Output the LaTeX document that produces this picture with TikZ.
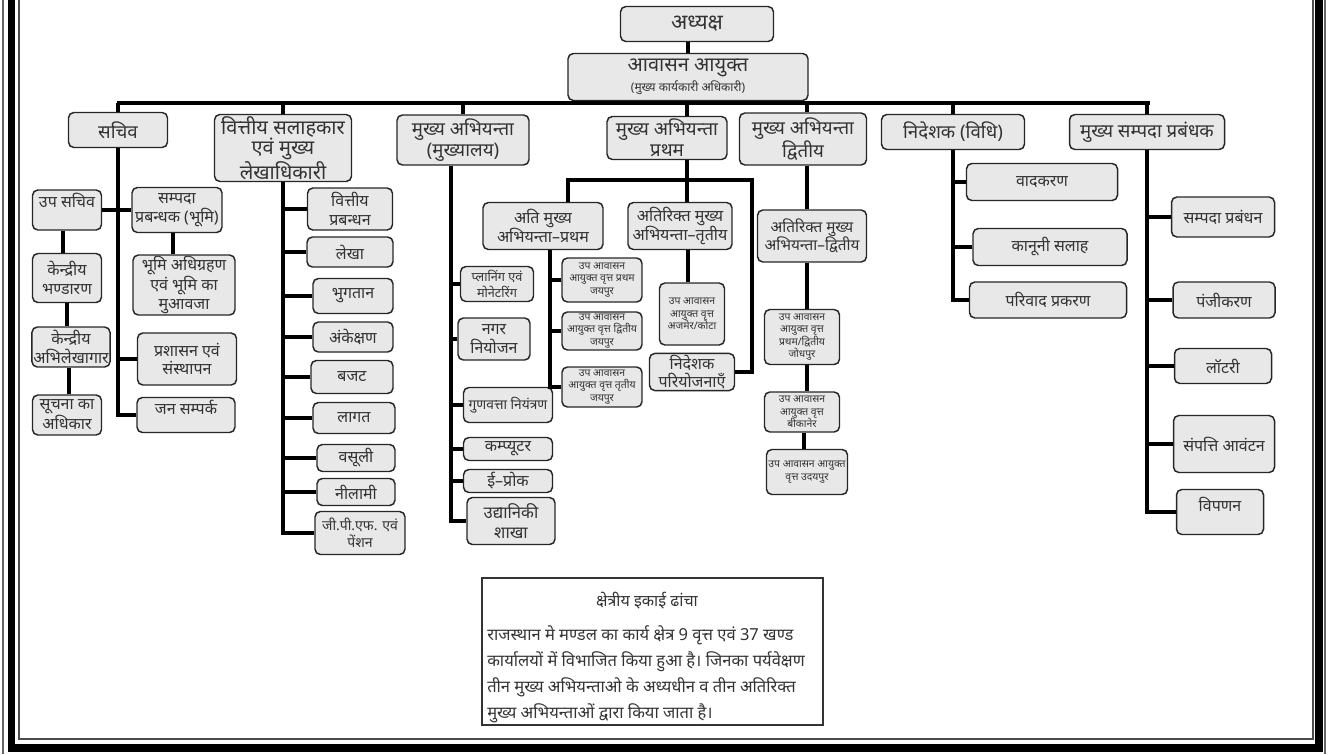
\documentclass[tikz,border=0pt]{standalone}
\usepackage{fontspec}
\setmainfont{Noto Sans}[Script=Devanagari]
\usetikzlibrary{calc}
\newcommand\txtsize[2]{\fontsize{#1}{#2}\selectfont}

\begin{document}
\begin{tikzpicture}[x=0.75pt,y=-0.75pt,
  office/.style={draw=black!85,fill=black!9,rounded corners=4pt,line width=1.1pt,
    align=center,inner sep=1pt,text=black!80,font=\txtsize{12}{14}},
  dims/.style 2 args={minimum width=#1*0.75pt,minimum height=#2*0.75pt},
  head/.style={font=\txtsize{14}{16}},
  vritt/.style={font=\txtsize{7.8}{9.4}},
  link/.style={line width=3pt}]
\useasboundingbox (0,0) rectangle (1330,754);

% frame
\draw[black!60,line width=0.9pt] (3,0) -- (3,754);
\draw[black!60,line width=0.9pt] (1325,0) -- (1325,754);
\draw[line width=5.5pt] (11.5,0) -- (11.5,748) -- (1319,748) -- (1319,0);
\draw[black!70,line width=0.9pt] (19,0) -- (19,739) -- (1313,739) -- (1313,0);

% top
\node[office,dims={153}{35},font=\txtsize{16}{18}] (adhyaksh) at (697,24) {अध्यक्ष};
\node[office,dims={240}{47},font=\txtsize{15}{14}] (aavasan) at (688,77)
  {आवासन आयुक्त\\[1pt]{\txtsize{9}{10}(मुख्य कार्यकारी अधिकारी)}};
\coordinate (busL) at (118,103);
\coordinate (busR) at (1148,103);
\draw[link] (adhyaksh.south -| aavasan.north) -- (aavasan.north);
\draw[link] (aavasan.south) -- (aavasan.south |- busL);
\draw[link] ($(busL)+(-1.5,0)$) -- ($(busR)+(1.5,0)$);

% first level
\node[office,head,dims={99}{35}] (sachiv) at (118,130) {सचिव};
\node[office,dims={137}{67},font=\txtsize{15}{15.5}] (vittiya) at (283,148) {वित्तीय सलाहकार\\एवं मुख्य\\लेखाधिकारी};
\node[office,head,dims={132}{50}] (ceHQ) at (463,140) {मुख्य अभियन्ता\\(मुख्यालय)};
\node[office,head,dims={120}{43}] (ceI) at (667,138) {मुख्य अभियन्ता\\प्रथम};
\node[office,head,dims={127}{52}] (ceII) at (803,139) {मुख्य अभियन्ता\\द्वितीय};
\node[office,head,dims={143}{35}] (nideshak) at (953,132) {निदेशक (विधि)};
\node[office,head,dims={155}{35}] (cem) at (1147,132) {मुख्य सम्पदा प्रबंधक};
\coordinate (ce1top) at ($(ceI.north)+(20,0)$);
\coordinate (ce2top) at ($(ceII.north)+(4,0)$);
\foreach \n in {sachiv,vittiya,ceHQ,nideshak,cem}
  \draw[link] (\n.north) -- (\n.north |- busL);
\draw[link] (ce1top) -- (ce1top |- busL);
\draw[link] (ce2top) -- (ce2top |- busL);

% sachiv
\begin{scope}[every node/.append style={font=\txtsize{11.5}{14}}]
\node[office,dims={69}{40}] (upsachiv) at (67,210) {उप सचिव\\ \mbox{}};
\node[office,dims={90}{45}] (sampada) at (177,210) {सम्पदा\\प्रबन्धक (भूमि)};
\node[office,dims={102}{60}] (bhumi) at (184,285) {भूमि अधिग्रहण\\एवं भूमि का\\मुआवजा};
\node[office,dims={69}{49}] (bhandaran) at (67,278) {केन्द्रीय\\भण्डारण};
\node[office,dims={77}{40}] (abhilekh) at (71,347) {केन्द्रीय\\अभिलेखागार};
\node[office,dims={69}{40}] (soochna) at (67,415) {सूचना का\\अधिकार};
\node[office,dims={99}{52}] (prashasan) at (187,359) {प्रशासन एवं\\संस्थापन};
\node[office,dims={98}{35}] (jansampark) at (186,415) {जन सम्पर्क\\[-3pt] \mbox{}};
\end{scope}
\coordinate (sampadastem) at ($(sampada.south)+(-4,0)$);
\coordinate (upstem) at ($(upsachiv.south)+(-4,0)$);
\coordinate (abhistem) at ($(abhilekh.south)+(-2,0)$);
\draw[link] (sachiv.south) |- (jansampark.west);
\draw[link] (upsachiv.east) -- (sampada.west);
\draw[link] (sampadastem) -- (sampadastem |- bhumi.north);
\draw[link] (upstem) -- (upstem |- bhandaran.north);
\draw[link] (bhandaran.south) -- (bhandaran.south |- abhilekh.north);
\draw[link] (abhistem) -- (abhistem |- soochna.north);
\draw[link] (prashasan.west) -- (prashasan.west -| sachiv.south);

% vittiya salahkar
\node[office,dims={85}{42}] (vprabandhan) at (350,209) {वित्तीय\\प्रबन्धन};
\node[office,dims={86}{30}] (lekha) at (350,252) {लेखा};
\node[office,dims={80}{35}] (bhugtan) at (353,296) {भुगतान};
\node[office,dims={80}{30}] (ankeshan) at (353,337) {अंकेक्षण};
\node[office,dims={82}{33}] (bajat) at (352,377) {बजट};
\node[office,dims={82}{31}] (lagat) at (354,418) {लागत};
\node[office,dims={78}{27}] (vasooli) at (356,458) {वसूली};
\node[office,dims={78}{27}] (neelami) at (356,492) {नीलामी};
\node[office,dims={90}{43},font=\txtsize{10.5}{13}] (jpf) at (360,533) {जी.पी.एफ. एवं\\पेंशन};
\draw[link] (vittiya.south) |- (jpf.west);
\foreach \n in {vprabandhan,lekha,bhugtan,ankeshan,bajat,lagat,vasooli,neelami}
  \draw[link] (\n.west) -- (\n.west -| vittiya.south);

% mukhya abhiyanta (mukhyalay)
\coordinate (hqstem) at ($(ceHQ.south)+(-12,0)$);
\begin{scope}[every node/.append style={font=\txtsize{11}{14}}]
\node[office,dims={73}{35},font=\txtsize{9.5}{11.5}] (planning) at (497,284) {प्लानिंग एवं\\मोनेटरिंग};
\node[office,dims={72}{42}] (nagar) at (494,339) {नगर\\नियोजन};
\node[office,dims={89}{35},font=\txtsize{10.3}{12}] (gunvatta) at (508,405) {गुणवत्ता नियंत्रण};
\node[office,dims={89}{23}] (computer) at (508,449) {कम्प्यूटर};
\node[office,dims={89}{23}] (eproc) at (508,481) {ई–प्रोक};
\node[office,dims={88}{47},font=\txtsize{12.5}{15}] (udyan) at (511,521) {उद्यानिकी\\शाखा};
\end{scope}
\draw[link] (hqstem) |- (udyan.west);
\foreach \n in {planning,nagar,gunvatta,computer,eproc}
  \draw[link] (\n.west) -- (\n.west -| hqstem);

% mukhya abhiyanta pratham
\begin{scope}[every node/.append style={font=\txtsize{11.5}{14}}]
\node[office,dims={120}{47}] (acei) at (543,226) {अति मुख्य\\अभियन्ता–प्रथम};
\node[office,dims={104}{47}] (aceiii) at (680,226) {अतिरिक्त मुख्य\\अभियन्ता–तृतीय};
\node[office,dims={85}{35}] (pariyojana) at (692,372) {निदेशक\\परियोजनाएँ};
\end{scope}
\node[office,vritt,dims={80}{44}] (vrittA) at (602,280) {उप आवासन\\आयुक्त वृत्त प्रथम\\जयपुर};
\node[office,vritt,dims={80}{38}] (vrittB) at (602,331) {उप आवासन\\आयुक्त वृत्त द्वितीय\\जयपुर};
\node[office,vritt,dims={80}{40}] (vrittC) at (602,387) {उप आवासन\\आयुक्त वृत्त तृतीय\\जयपुर};
\node[office,vritt,dims={65}{62}] (vrittD) at (692,314) {उप आवासन\\आयुक्त वृत्त\\अजमेर/कोटा};
\coordinate (c1R) at (752,180);
\coordinate (acei3top) at ($(aceiii.north)+(7,0)$);
\coordinate (acei1top) at ($(acei.north)+(25,0)$);
\coordinate (aceistem) at ($(acei.south)+(7,0)$);
\coordinate (acei3stem) at ($(aceiii.south)+(8,0)$);
\draw[link] (ce1top |- ceI.south) -- (acei3top);
\draw[link] (acei1top) |- (c1R) |- (pariyojana.east);
\draw[link] (aceistem) |- (vrittC.west);
\foreach \n in {vrittA,vrittB}
  \draw[link] (\n.west) -- (\n.west -| aceistem);
\draw[link] (acei3stem) -- (acei3stem |- vrittD.north);

% mukhya abhiyanta dwitiya
\node[office,dims={109}{52},font=\txtsize{11.5}{14}] (aceii) at (812,236) {अतिरिक्त मुख्य\\अभियन्ता–द्वितीय};
\node[office,vritt,dims={75}{55}] (vrittE) at (802,337) {उप आवासन\\आयुक्त वृत्त\\प्रथम/द्वितीय\\जोधपुर};
\node[office,vritt,dims={75}{40}] (vrittF) at (802,412) {उप आवासन\\आयुक्त वृत्त\\बीकानेर};
\node[office,vritt,dims={81}{45}] (vrittG) at (807,472) {उप आवासन आयुक्त\\वृत्त उदयपुर};
\coordinate (c2) at ($(ceII.south)+(4,0)$);
\coordinate (c2low) at ($(c2 |- vrittF.south)+(-3,0)$);
\draw[link] (c2) -- (c2 |- aceii.north);
\draw[link] (c2 |- aceii.south) -- (c2 |- vrittE.north);
\draw[link] (c2 |- vrittE.south) -- (c2 |- vrittF.north);
\draw[link] (c2low) -- (c2low |- vrittG.north);

% nideshak (vidhi)
\begin{scope}[every node/.append style={font=\txtsize{13}{15}}]
\node[office,dims={151}{37}] (vadkaran) at (1042,182) {वादकरण};
\node[office,dims={154}{37}] (kanooni) at (1050,247) {कानूनी सलाह};
\node[office,dims={157}{36}] (parivad) at (1048,300) {परिवाद प्रकरण};
\end{scope}
\draw[link] (nideshak.south) |- (parivad.west);
\foreach \n in {vadkaran,kanooni}
  \draw[link] (\n.west) -- (\n.west -| nideshak.south);

% mukhya sampada prabandhak
\begin{scope}[every node/.append style={font=\txtsize{13}{15}}]
\node[office,dims={103}{40}] (sprabandhan) at (1223,217) {सम्पदा प्रबंधन};
\node[office,dims={102}{36}] (panjikaran) at (1224,300) {पंजीकरण};
\node[office,dims={97}{35}] (lottery) at (1223,366) {लॉटरी};
\node[office,dims={101}{57}] (aavantan) at (1224,444) {संपत्ति आवंटन};
\node[office,dims={87}{45}] (vipanan) at (1220,512) {विपणन\\[-2pt] \mbox{}};
\end{scope}
\draw[link] (cem.south) |- (vipanan.west);
\foreach \n in {sprabandhan,panjikaran,lottery,aavantan}
  \draw[link] (\n.west) -- (\n.west -| cem.south);

% info box
\node[draw=black!80,line width=1pt,dims={341}{147}] (info) at (652.5,651.5) {};
\node[text=black!80,font=\txtsize{12}{14}] (infotitle) at (647,601) {क्षेत्रीय इकाई ढांचा};
\node[anchor=north west,align=left,inner sep=0pt,text=black!80,font=\txtsize{12.4}{19.5}] (infotext) at (487,625)
  {राजस्थान मे मण्डल का कार्य क्षेत्र 9 वृत्त एवं 37 खण्ड\\
   कार्यालयों में विभाजित किया हुआ है। जिनका पर्यवेक्षण\\
   तीन मुख्य अभियन्ताओ के अध्यधीन व तीन अतिरिक्त\\
   मुख्य अभियन्ताओं द्वारा किया जाता है।};
\end{tikzpicture}
\end{document}
